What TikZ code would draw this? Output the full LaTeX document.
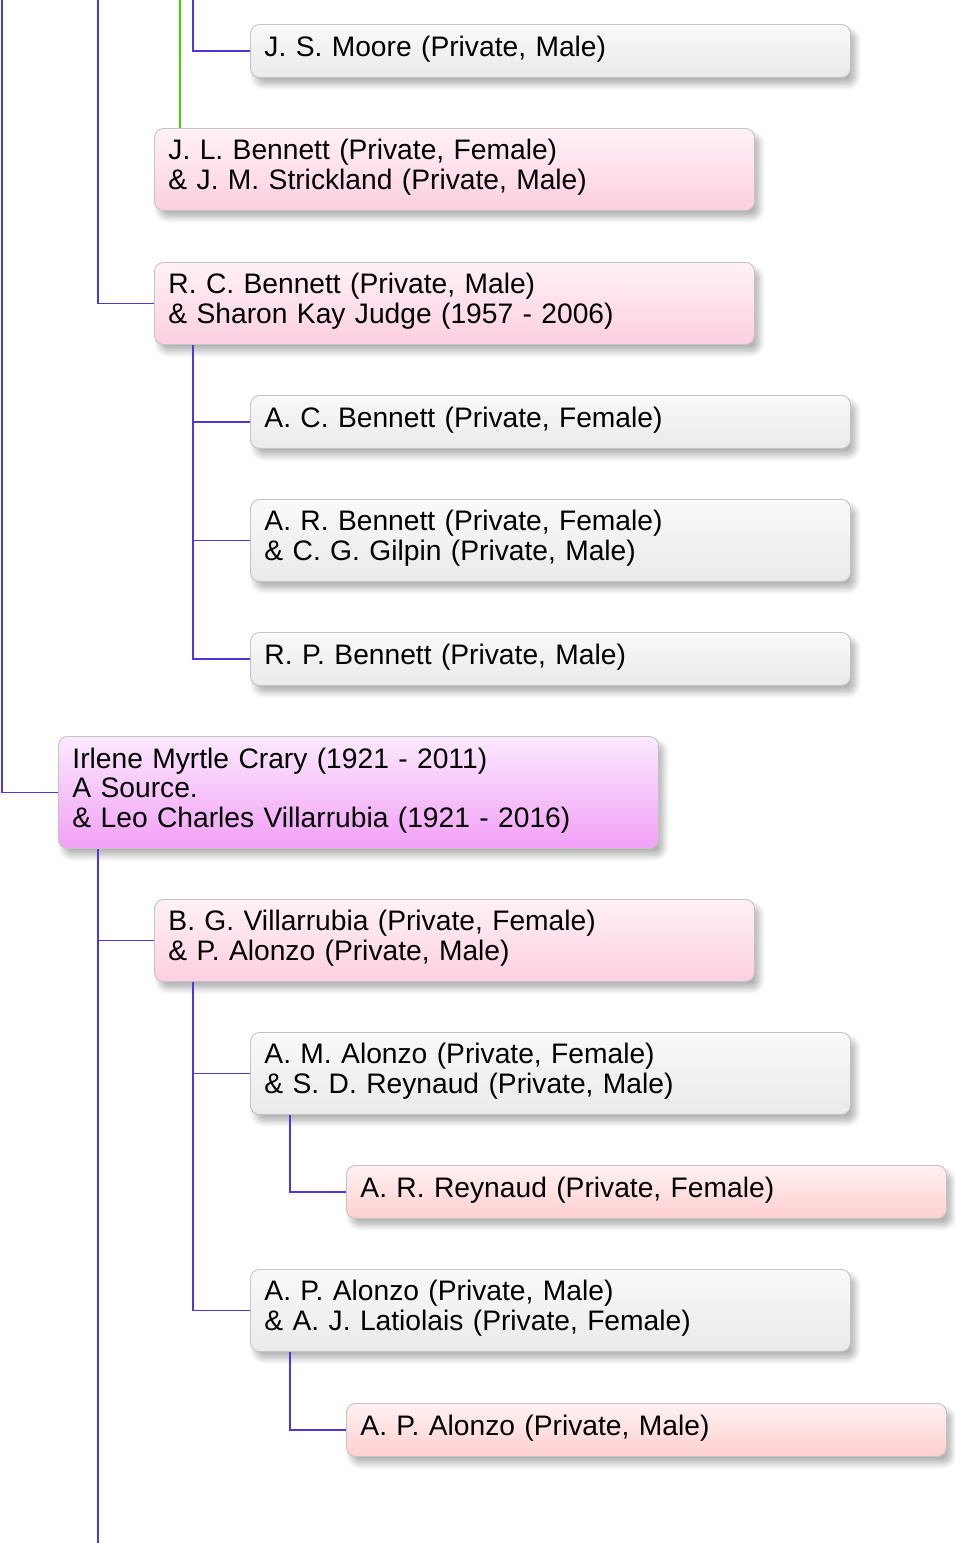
\documentclass[tikz,border=0pt]{standalone}
\usepackage{fontspec}
\setmainfont{Liberation Sans}
\usetikzlibrary{shadows.blur,calc}
\definecolor{lnc}{HTML}{5236DA}
\definecolor{grn}{HTML}{44CC11}
\definecolor{bord}{HTML}{C4C4C4}
\definecolor{gT}{HTML}{F9F9F9}\definecolor{gB}{HTML}{EAEAEA}
\definecolor{pT}{HTML}{FFF1F6}\definecolor{pB}{HTML}{FDCFE1}
\definecolor{vT}{HTML}{FBE9FD}\definecolor{vB}{HTML}{F2A0F7}
\definecolor{sT}{HTML}{FFF1F1}\definecolor{sB}{HTML}{FFCFCF}
\tikzset{
  box/.style={rounded corners=9pt, draw=bord, line width=0.9pt, anchor=north west,
    minimum width=600pt, text width=572pt, inner xsep=14pt, inner ysep=0pt, align=left,
    font=\fontsize{28.2}{29.5}\selectfont,
    execute at end node={\rule[-10pt]{0pt}{10pt}},
    blur shadow={shadow xshift=5pt, shadow yshift=-7pt, shadow blur steps=8, shadow opacity=30, shadow blur radius=6pt}},
  greybox/.style={box, top color=gT, bottom color=gB},
  pinkbox/.style={box, top color=pT, bottom color=pB},
  violetbox/.style={box, top color=vT, bottom color=vB},
  salmonbox/.style={box, top color=sT, bottom color=sB},
  one/.style={minimum height=53pt},
  two/.style={minimum height=82pt},
  three/.style={minimum height=112pt},
  conn/.style={draw=lnc, line width=1.4pt},
  gconn/.style={draw=grn, line width=1.3pt}
}
\begin{document}
\begin{tikzpicture}[x=1pt,y=-1pt]
\useasboundingbox (0,0) rectangle (954,1543);
% nodes
\node[greybox,one] (jsm) at (250,24) {J. S. Moore (Private, Male)};
\node[pinkbox,two] (jl) at (154,128) {J. L. Bennett (Private, Female)\\\& J. M. Strickland (Private, Male)};
\node[pinkbox,two] (rc) at (154,262) {R. C. Bennett (Private, Male)\\\& Sharon Kay Judge (1957 - 2006)};
\node[greybox,one] (ac) at (250,395) {A. C. Bennett (Private, Female)};
\node[greybox,two] (ar) at (250,499) {A. R. Bennett (Private, Female)\\\& C. G. Gilpin (Private, Male)};
\node[greybox,one] (rp) at (250,632) {R. P. Bennett (Private, Male)};
\node[violetbox,three] (irl) at (58,736) {Irlene Myrtle Crary (1921 - 2011)\\A Source.\\\& Leo Charles Villarrubia (1921 - 2016)};
\node[pinkbox,two] (bg) at (154,899) {B. G. Villarrubia (Private, Female)\\\& P. Alonzo (Private, Male)};
\node[greybox,two] (am) at (250,1032) {A. M. Alonzo (Private, Female)\\\& S. D. Reynaud (Private, Male)};
\node[salmonbox,one] (arr) at (346,1165) {A. R. Reynaud (Private, Female)};
\node[greybox,two] (apa) at (250,1269) {A. P. Alonzo (Private, Male)\\\& A. J. Latiolais (Private, Female)};
\node[salmonbox,one] (ap) at (346,1403) {A. P. Alonzo (Private, Male)};
% free ends
\coordinate (t1) at (2,0);
\coordinate (t2) at (98,0);
\coordinate (t3) at (180,0);
\coordinate (t4) at (193,0);
\coordinate (bot) at (98,1543);
% connectors
\draw[conn] (t1) |- (irl.west);
\draw[conn] (t2) |- (rc.west);
\draw[gconn] (t3) -- (t3 |- jl.north);
\draw[conn] (t4) |- (jsm.west);
\draw[conn] ([xshift=39pt]rc.south west) |- (ac.west);
\draw[conn] ([xshift=39pt]rc.south west) |- (ar.west);
\draw[conn] ([xshift=39pt]rc.south west) |- (rp.west);
\draw[conn] ([xshift=40pt]irl.south west) -- (bot);
\draw[conn] ([xshift=40pt]irl.south west) |- (bg.west);
\draw[conn] ([xshift=39pt]bg.south west) |- (am.west);
\draw[conn] ([xshift=39pt]bg.south west) |- (apa.west);
\draw[conn] ([xshift=40pt]am.south west) |- (arr.west);
\draw[conn] ([xshift=40pt]apa.south west) |- (ap.west);
\end{tikzpicture}
\end{document}
